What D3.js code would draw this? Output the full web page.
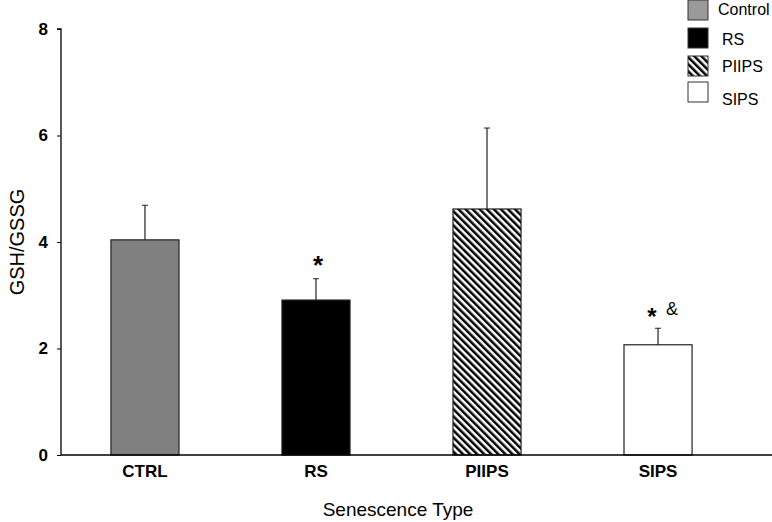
<!DOCTYPE html>
<html><head><meta charset="utf-8">
<script src="https://cdn.jsdelivr.net/npm/d3@7"></script>
<style>body{margin:0;background:#fff}svg{display:block;font-family:Arial,"Liberation Sans",sans-serif}</style>
</head><body><svg id="c" width="772" height="522"></svg>
<script>
const categories = ["CTRL","RS","PIIPS","SIPS"];
const means = [4.04, 2.91, 4.62, 2.07];
const errors = [0.65, 0.40, 1.52, 0.31];
const marks = [[], ["*"], [], ["*","&"]];
const legendLabels = ["Control","RS","PIIPS","SIPS"];
const yTicks = [0,2,4,6,8];

const svg = d3.select("#c");
const defs = svg.append("defs");
const pat = defs.append("pattern").attr("id","hatch").attr("patternUnits","userSpaceOnUse")
  .attr("width",5).attr("height",5).attr("patternTransform","rotate(-45)");
pat.append("rect").attr("width",5).attr("height",5).attr("fill","#fff");
pat.append("rect").attr("x",0).attr("width",2.5).attr("height",5).attr("fill","#000");

const fills = ["#808080","#000","url(#hatch)","#fff"];
const legendFills = ["#9a9a9a","#000","url(#hatch)","#fff"];

const y = d3.scaleLinear().domain([0,8]).range([455,29]);
const x = d3.scaleBand().domain(categories).range([61,742]).paddingInner(0.602).paddingOuter(0.292);

// bars
svg.selectAll("rect.bar").data(categories).join("rect").attr("class","bar")
  .attr("x",d=>x(d)).attr("width",x.bandwidth())
  .attr("y",(d,i)=>y(means[i])).attr("height",(d,i)=>y(0)-y(means[i]))
  .attr("fill",(d,i)=>fills[i]).attr("stroke","#222").attr("stroke-width",1.2);

// error bars
categories.forEach((c,i)=>{
  const cx = x(c)+x.bandwidth()/2;
  const top = y(means[i]+errors[i]);
  svg.append("line").attr("x1",cx).attr("x2",cx).attr("y1",y(means[i])).attr("y2",top).attr("stroke","#222").attr("stroke-width",1.2);
  svg.append("line").attr("x1",cx-3).attr("x2",cx+3).attr("y1",top).attr("y2",top).attr("stroke","#222").attr("stroke-width",1);
  if (marks[i].length === 1) {
    svg.append("text").attr("x",cx+2).attr("y",top-5).attr("text-anchor","middle")
      .attr("font-size",26).attr("font-weight","bold").attr("fill","#000").text(marks[i][0]);
  } else if (marks[i].length === 2) {
    svg.append("text").attr("x",cx-6).attr("y",top-3).attr("text-anchor","middle")
      .attr("font-size",24).attr("font-weight","bold").attr("fill","#000").text(marks[i][0]);
    svg.append("text").attr("x",cx+14).attr("y",top-13).attr("text-anchor","middle")
      .attr("font-size",18).attr("fill","#000").text(marks[i][1]);
  }
});

// y axis
const ya = svg.append("g").attr("transform","translate(61,0)")
  .call(d3.axisLeft(y).tickValues(yTicks).tickSize(4).tickFormat(d3.format("d")));
ya.select(".domain").attr("stroke","#000").attr("stroke-width",1.3).attr("d","M0,455V29H-4M0,29");
ya.selectAll(".tick line").attr("stroke","#000");
ya.selectAll(".tick text").attr("font-size",17).attr("font-weight","bold").attr("fill","#000").attr("x",-13)
  .attr("font-family","Arial,'Liberation Sans',sans-serif");

// x axis
const xa = svg.append("g").attr("transform","translate(0,455)")
  .call(d3.axisBottom(x).tickSize(0));
xa.select(".domain").remove();
xa.selectAll(".tick text").attr("font-size",17).attr("font-weight","bold").attr("fill","#000").attr("dy","1.1em")
  .attr("font-family","Arial,'Liberation Sans',sans-serif");
svg.append("line").attr("x1",61).attr("x2",772).attr("y1",455).attr("y2",455).attr("stroke","#000").attr("stroke-width",1.3);

// axis titles
svg.append("text").attr("transform","translate(24,242) rotate(-90)").attr("text-anchor","middle")
  .attr("font-size",20).attr("fill","#000").text("GSH/GSSG");
svg.append("text").attr("x",398).attr("y",516).attr("text-anchor","middle")
  .attr("font-size",19).attr("fill","#000").text("Senescence Type");

// legend
const ly = [0,28,56,82], lty=[15,45,72,105], ltx=[718,722,722,722];
legendLabels.forEach((l,i)=>{
  svg.append("rect").attr("x",688).attr("y",ly[i]).attr("width",20).attr("height",20)
    .attr("fill",legendFills[i]).attr("stroke","#333").attr("stroke-width",1);
  svg.append("text").attr("x",ltx[i]).attr("y",lty[i]).attr("font-size",16).attr("fill","#000").text(l);
});
</script></body></html>
